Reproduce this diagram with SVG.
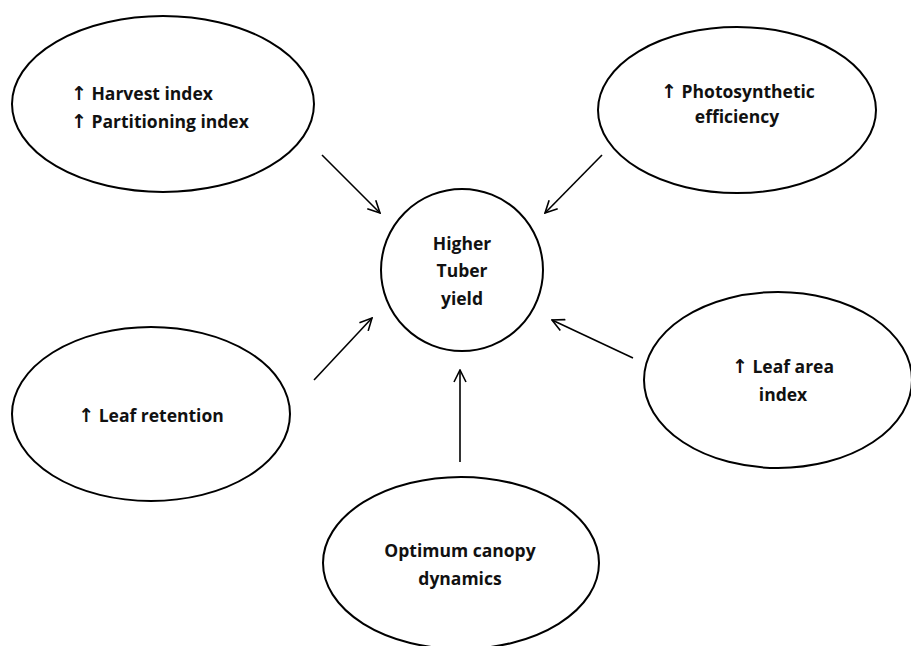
<svg xmlns="http://www.w3.org/2000/svg" width="911" height="646" viewBox="0 0 911 646">
<style>
.n{fill:#fff;stroke:#000;stroke-width:2}
.t{font-family:"Open Sans","DejaVu Sans",sans-serif;font-weight:bold;font-size:17.5px;fill:#111}
.a{font-family:"DejaVu Sans",sans-serif;font-weight:bold;font-size:19px}
.c{stroke:#000;stroke-width:1.6;fill:none}
</style>
<defs>
<marker id="ah" viewBox="0 0 14 14" refX="13" refY="7" markerWidth="14" markerHeight="14" markerUnits="userSpaceOnUse" orient="auto">
<path d="M1,1 L13,7 L1,13" fill="none" stroke="#000" stroke-width="1.6"/>
</marker>
</defs>
<rect width="911" height="646" fill="#fff"/>
<g id="connectors">
<line class="c" x1="322" y1="155" x2="380" y2="213" marker-end="url(#ah)"/>
<line class="c" x1="602" y1="155" x2="545" y2="213" marker-end="url(#ah)"/>
<line class="c" x1="314" y1="380" x2="372" y2="318" marker-end="url(#ah)"/>
<line class="c" x1="633" y1="358" x2="552" y2="320" marker-end="url(#ah)"/>
<line class="c" x1="460" y1="462" x2="460" y2="370" marker-end="url(#ah)"/>
</g>
<g id="harvest">
<ellipse class="n" cx="163" cy="104" rx="151" ry="88"/>
<text class="t" x="71" y="100"><tspan class="a">↑</tspan> Harvest index</text>
<text class="t" x="71" y="128"><tspan class="a">↑</tspan> Partitioning index</text>
</g>
<g id="photo">
<ellipse class="n" cx="737" cy="110" rx="139" ry="83"/>
<text class="t" x="738" y="98" text-anchor="middle"><tspan class="a">↑</tspan> Photosynthetic</text>
<text class="t" x="737" y="123" text-anchor="middle">efficiency</text>
</g>
<g id="yield">
<circle class="n" cx="462" cy="270" r="81"/>
<text class="t" x="462" y="250" text-anchor="middle">Higher</text>
<text class="t" x="462" y="277" text-anchor="middle">Tuber</text>
<text class="t" x="462" y="305" text-anchor="middle">yield</text>
</g>
<g id="retention">
<ellipse class="n" cx="151" cy="414" rx="139" ry="87"/>
<text class="t" x="151" y="422" text-anchor="middle"><tspan class="a">↑</tspan> Leaf retention</text>
</g>
<g id="lai">
<ellipse class="n" cx="778" cy="380" rx="134" ry="88"/>
<text class="t" x="783" y="373" text-anchor="middle"><tspan class="a">↑</tspan> Leaf area</text>
<text class="t" x="783" y="401" text-anchor="middle">index</text>
</g>
<g id="canopy">
<ellipse class="n" cx="461" cy="563" rx="138" ry="86"/>
<text class="t" x="460" y="557" text-anchor="middle">Optimum canopy</text>
<text class="t" x="460" y="585" text-anchor="middle">dynamics</text>
</g>
</svg>
